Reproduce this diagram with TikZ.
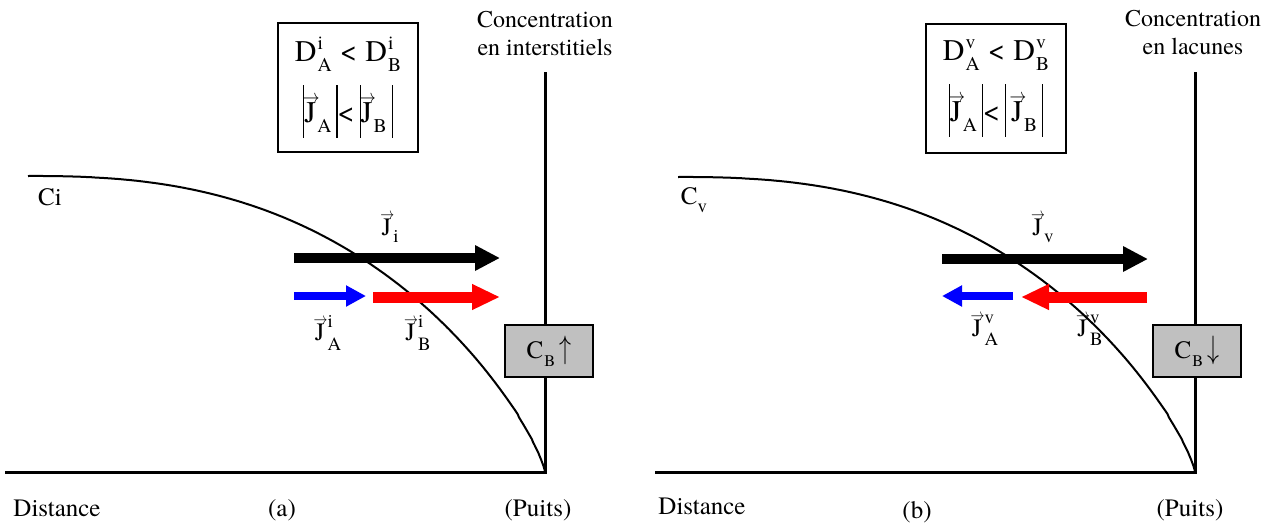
\documentclass[tikz,border=0pt]{standalone}
\usepackage{fontspec}
\IfFontExistsTF{texgyretermes-regular.otf}{\setmainfont{texgyretermes-regular.otf}[BoldFont=texgyretermes-bold.otf]}{\setmainfont{Liberation Serif}}
\usetikzlibrary{arrows.meta}
\definecolor{boxgray}{RGB}{192,192,192}
\newcommand{\vJ}{\leavevmode\rlap{\raisebox{0.64em}{\kern-0.05em\scalebox{0.58}[0.7]{$\rightarrow$}}}J}
\newcommand{\bigsub}[2]{\kern0.04em\rlap{\raisebox{0.38em}{\scalebox{0.65}{#2}}}\raisebox{-0.33em}{\scalebox{0.65}{#1}}}
\newcommand{\lblsub}[2]{\kern0.12em\rlap{\raisebox{0.5em}{\scalebox{0.75}{#2}}}\raisebox{-0.39em}{\scalebox{0.75}{#1}}}
\newcommand{\onesub}[1]{\kern0.04em\raisebox{-0.33em}{\scalebox{0.65}{#1}}}
\newcommand{\vbar}{\rule[-0.5em]{0.6pt}{1.75em}}
\tikzset{
  axis/.style={line width=1.5pt},
  curve/.style={line width=1pt},
  txt/.style={font=\fontsize{12}{14}\selectfont, inner sep=0pt, align=center},
  lbl/.style={font=\fontsize{12.5}{14}\selectfont, inner sep=0pt},
  eqbox/.style={draw, line width=0.6pt, minimum width=70pt, minimum height=64.5pt, font=\fontsize{15}{18}\selectfont, align=center, inner sep=0pt},
  cbox/.style={draw, line width=0.9pt, fill=boxgray, minimum width=44pt, minimum height=26pt, font=\fontsize{12.5}{14}\selectfont, inner sep=0pt},
  fluxK/.style={line width=5pt, black, -{Triangle[length=12.5pt,width=12pt]}},
  fluxA/.style={line width=4pt, blue, -{Triangle[length=10pt,width=10pt]}},
  fluxB/.style={line width=5.5pt, red, -{Triangle[length=14pt,width=12pt]}},
}
\begin{document}
\begin{tikzpicture}[x=0.5pt,y=-0.5pt]
\useasboundingbox (0,0) rectangle (1275,526);
% ---------- panel (a) ----------
\coordinate (aO) at (545,472);
\coordinate (aL) at (5,472);
\coordinate (aT) at (545,72);
\draw[axis] (aL) -- (aO) -- (aT);
\draw[curve] (28,176) -- plot[domain=0.002:0.9999, samples=400] ({28+517*\x}, {472-296*(1-\x^2.5)^0.8}) -- (aO);
\node[cbox] (aC) at (549,351) {C\onesub{B}\,\scalebox{1}[1.35]{$\uparrow$}};
\node[eqbox] (aE) at (348,87.5) {D\bigsub{A}{i}\;<\;D\bigsub{B}{i}\\[6pt] \vbar\vJ\onesub{A}\,\vbar<\,\vbar\vJ\onesub{B}\,\vbar};
\node[txt] (aY) at (545,34) {Concentration\\en interstitiels};
\node[lbl] (aCi) at (50,197) {Ci};
\node[lbl] (aD) at (57,508) {Distance};
\node[lbl] (aN) at (282,510) {(a)};
\node[lbl] (aP) at (538,510) {(Puits)};
\coordinate (aK1) at (294,258);
\coordinate (aK2) at (500,258);
\coordinate (aA1) at (294,296);
\coordinate (aA2) at (366,296);
\coordinate (aB1) at (373,297);
\coordinate (aB2) at (500,297);
\draw[fluxK] (aK1) -- (aK2);
\draw[fluxA] (aA1) -- (aA2);
\draw[fluxB] (aB1) -- (aB2);
\node[lbl] (aJi) at (390,228) {\vJ\kern0.08em\raisebox{-0.3em}{\scalebox{0.75}{i}}};
\node[lbl] (aJA) at (328,333) {\vJ\lblsub{A}{i}};
\node[lbl] (aJB) at (418,333) {\vJ\lblsub{B}{i}};
% ---------- panel (b) ----------
\coordinate (bO) at (1195,472);
\coordinate (bL) at (655,472);
\coordinate (bT) at (1195,72);
\draw[axis] (bL) -- (bO) -- (bT);
\draw[curve] (678,177) -- plot[domain=0.002:0.9999, samples=400] ({678+517*\x}, {472-295*(1-\x^2.5)^0.8}) -- (bO);
\node[cbox] (bC) at (1197,351) {C\onesub{B}\,\scalebox{1}[1.35]{$\downarrow$}};
\node[eqbox] (bE) at (996,88.5) {D\bigsub{A}{v}\;<\;D\bigsub{B}{v}\\[6pt] \vbar\vJ\onesub{A}\,\vbar<\,\vbar\,\vJ\onesub{B}\,\vbar};
\node[txt] (bY) at (1193,33) {Concentration\\en lacunes};
\node[lbl] (bCv) at (694,200) {C\raisebox{-0.3em}{\scalebox{0.75}{v}}};
\node[lbl] (bD) at (702,506) {Distance};
\node[lbl] (bN) at (917,512) {(b)};
\node[lbl] (bP) at (1190,510) {(Puits)};
\coordinate (bK1) at (942,259);
\coordinate (bK2) at (1148,259);
\coordinate (bA1) at (1013,296);
\coordinate (bA2) at (942,296);
\coordinate (bB1) at (1147,297);
\coordinate (bB2) at (1021,297);
\draw[fluxK] (bK1) -- (bK2);
\draw[fluxA] (bA1) -- (bA2);
\draw[fluxB] (bB1) -- (bB2);
\node[lbl] (bJv) at (1043,228) {\vJ\kern0.08em\raisebox{-0.3em}{\scalebox{0.75}{v}}};
\node[lbl] (bJA) at (985,330) {\vJ\lblsub{A}{v}};
\node[lbl] (bJB) at (1090,330) {\vJ\lblsub{B}{v}};
\end{tikzpicture}
\end{document}
